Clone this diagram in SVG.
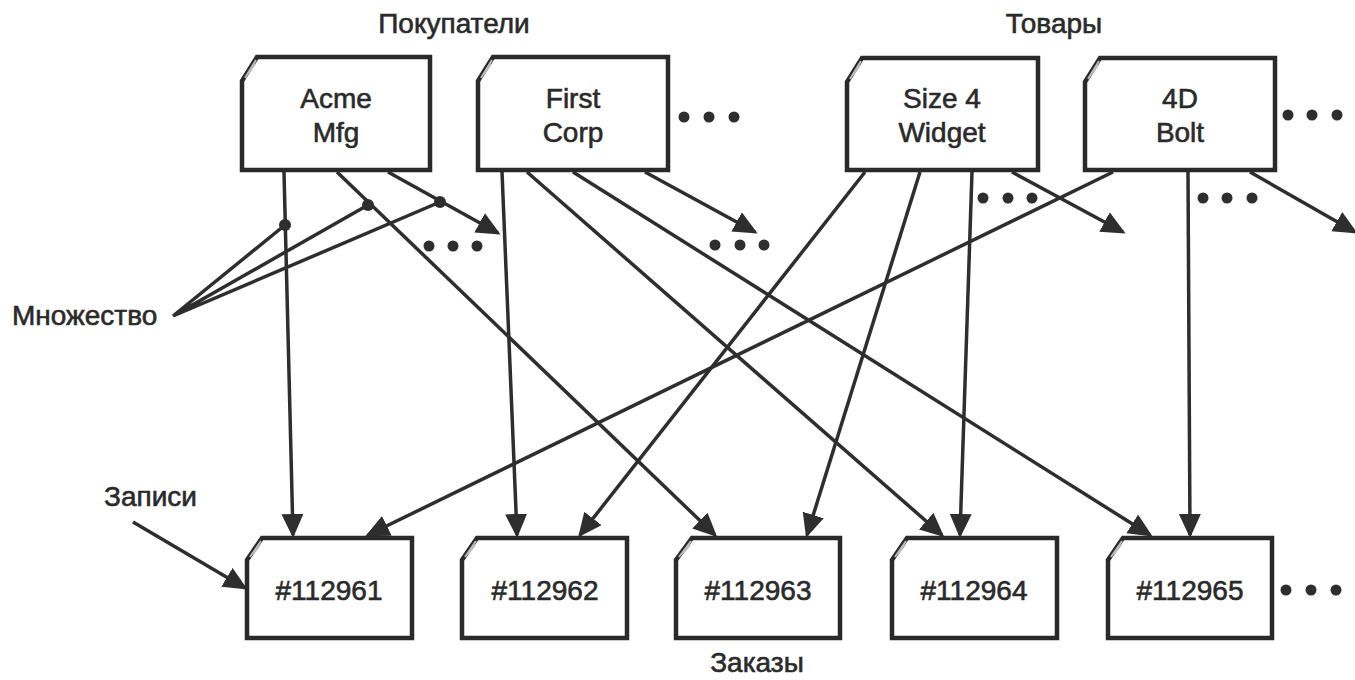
<svg xmlns="http://www.w3.org/2000/svg" width="1355" height="680" viewBox="0 0 1355 680">
<defs>
<style>
.t{font-family:"Liberation Sans",Arial,sans-serif;font-size:28px;fill:#2a2a2a;stroke:#2a2a2a;stroke-width:0.6}
.m{text-anchor:middle}
.box{fill:#fff;stroke:#2a2a2a;stroke-width:4.5;stroke-linejoin:miter}
.fold{fill:none;stroke:#bbb;stroke-width:2}
.c{fill:none;stroke:#2e2e2e;stroke-width:3.5}
.dot{fill:#2e2e2e}
</style>
<marker id="ah" markerUnits="userSpaceOnUse" markerWidth="26" markerHeight="24" refX="21" refY="11" orient="auto">
<path d="M0,0 L24,11 L0,22 z" fill="#2e2e2e"/>
</marker>
</defs>
<rect width="1355" height="680" fill="#fff"/>

<text class="t m" x="454" y="33">Покупатели</text>
<text class="t m" x="1054" y="33">Товары</text>
<text class="t m" x="757" y="672">Заказы</text>
<text class="t" x="12" y="325">Множество</text>
<text class="t" x="104" y="506">Записи</text>

<g id="connectors">
<path class="c" d="M284,172 L293,535" marker-end="url(#ah)"/>
<path class="c" d="M337,172 L715,535" marker-end="url(#ah)"/>
<path class="c" d="M388,172 L498,233" marker-end="url(#ah)"/>
<path class="c" d="M502,172 L517,535" marker-end="url(#ah)"/>
<path class="c" d="M527,172 L942,535" marker-end="url(#ah)"/>
<path class="c" d="M573,172 L1150,535" marker-end="url(#ah)"/>
<path class="c" d="M645,172 L755,232" marker-end="url(#ah)"/>
<path class="c" d="M865,172 L580,535" marker-end="url(#ah)"/>
<path class="c" d="M920,172 L807,535" marker-end="url(#ah)"/>
<path class="c" d="M972,172 L960,535" marker-end="url(#ah)"/>
<path class="c" d="M1012,172 L1123,232" marker-end="url(#ah)"/>
<path class="c" d="M1113,172 L368,535" marker-end="url(#ah)"/>
<path class="c" d="M1188,172 L1190,535" marker-end="url(#ah)"/>
<path class="c" d="M1250,172 L1355,232" marker-end="url(#ah)"/>
<path class="c" d="M133,522 L245,588" marker-end="url(#ah)"/>
<path class="c" d="M173,316 L285,225 M173,316 L368,205 M173,316 L440,202"/>
<circle class="dot" cx="285" cy="225" r="6"/>
<circle class="dot" cx="368" cy="205" r="6"/>
<circle class="dot" cx="440" cy="202" r="6"/>
</g>

<g id="ellipses">
<circle class="dot" cx="429" cy="246" r="5.5"/><circle class="dot" cx="453" cy="246" r="5.5"/><circle class="dot" cx="477" cy="246" r="5.5"/>
<circle class="dot" cx="715" cy="245" r="5.5"/><circle class="dot" cx="740" cy="245" r="5.5"/><circle class="dot" cx="764" cy="245" r="5.5"/>
<circle class="dot" cx="684" cy="117" r="5.5"/><circle class="dot" cx="709" cy="117" r="5.5"/><circle class="dot" cx="734" cy="117" r="5.5"/>
<circle class="dot" cx="983" cy="198" r="5.5"/><circle class="dot" cx="1008" cy="198" r="5.5"/><circle class="dot" cx="1032" cy="198" r="5.5"/>
<circle class="dot" cx="1203" cy="198" r="5.5"/><circle class="dot" cx="1227" cy="198" r="5.5"/><circle class="dot" cx="1252" cy="198" r="5.5"/>
<circle class="dot" cx="1288" cy="115" r="5.5"/><circle class="dot" cx="1312" cy="115" r="5.5"/><circle class="dot" cx="1337" cy="115" r="5.5"/>
<circle class="dot" cx="1286" cy="590" r="5.5"/><circle class="dot" cx="1311" cy="590" r="5.5"/><circle class="dot" cx="1336" cy="590" r="5.5"/>
</g>

<g id="acme">
<path class="box" d="M257,57 L430,57 L430,170 L242,170 L242,81 Z"/>
<path class="fold" d="M256,60 L245,78 M255,64 L248,74"/>
<text class="t m" x="336" y="108">Acme</text>
<text class="t m" x="336" y="142">Mfg</text>
</g>
<g id="firstcorp">
<path class="box" d="M493,57 L668,57 L668,170 L478,170 L478,81 Z"/>
<path class="fold" d="M492,60 L481,78 M491,64 L484,74"/>
<text class="t m" x="573" y="108">First</text>
<text class="t m" x="573" y="142">Corp</text>
</g>
<g id="widget">
<path class="box" d="M862,58 L1038,58 L1038,170 L847,170 L847,82 Z"/>
<path class="fold" d="M861,61 L850,79 M860,65 L853,75"/>
<text class="t m" x="942" y="108">Size 4</text>
<text class="t m" x="942" y="142">Widget</text>
</g>
<g id="bolt">
<path class="box" d="M1100,58 L1275,58 L1275,170 L1085,170 L1085,82 Z"/>
<path class="fold" d="M1099,61 L1088,79 M1098,65 L1091,75"/>
<text class="t m" x="1180" y="108">4D</text>
<text class="t m" x="1180" y="142">Bolt</text>
</g>

<g id="o112961">
<path class="box" d="M262,538 L412,538 L412,638 L247,638 L247,560 Z"/>
<path class="fold" d="M261,541 L250,557 M260,545 L253,554"/>
<text class="t m" x="329" y="600">#112961</text>
</g>
<g id="o112962">
<path class="box" d="M477,538 L627,538 L627,638 L462,638 L462,560 Z"/>
<path class="fold" d="M476,541 L465,557 M475,545 L468,554"/>
<text class="t m" x="545" y="600">#112962</text>
</g>
<g id="o112963">
<path class="box" d="M692,538 L840,538 L840,638 L676,638 L676,560 Z"/>
<path class="fold" d="M691,541 L679,557 M690,545 L682,554"/>
<text class="t m" x="758" y="600">#112963</text>
</g>
<g id="o112964">
<path class="box" d="M907,538 L1057,538 L1057,638 L892,638 L892,560 Z"/>
<path class="fold" d="M906,541 L895,557 M905,545 L898,554"/>
<text class="t m" x="974" y="600">#112964</text>
</g>
<g id="o112965">
<path class="box" d="M1123,538 L1272,538 L1272,638 L1108,638 L1108,560 Z"/>
<path class="fold" d="M1122,541 L1111,557 M1121,545 L1114,554"/>
<text class="t m" x="1190" y="600">#112965</text>
</g>
</svg>
